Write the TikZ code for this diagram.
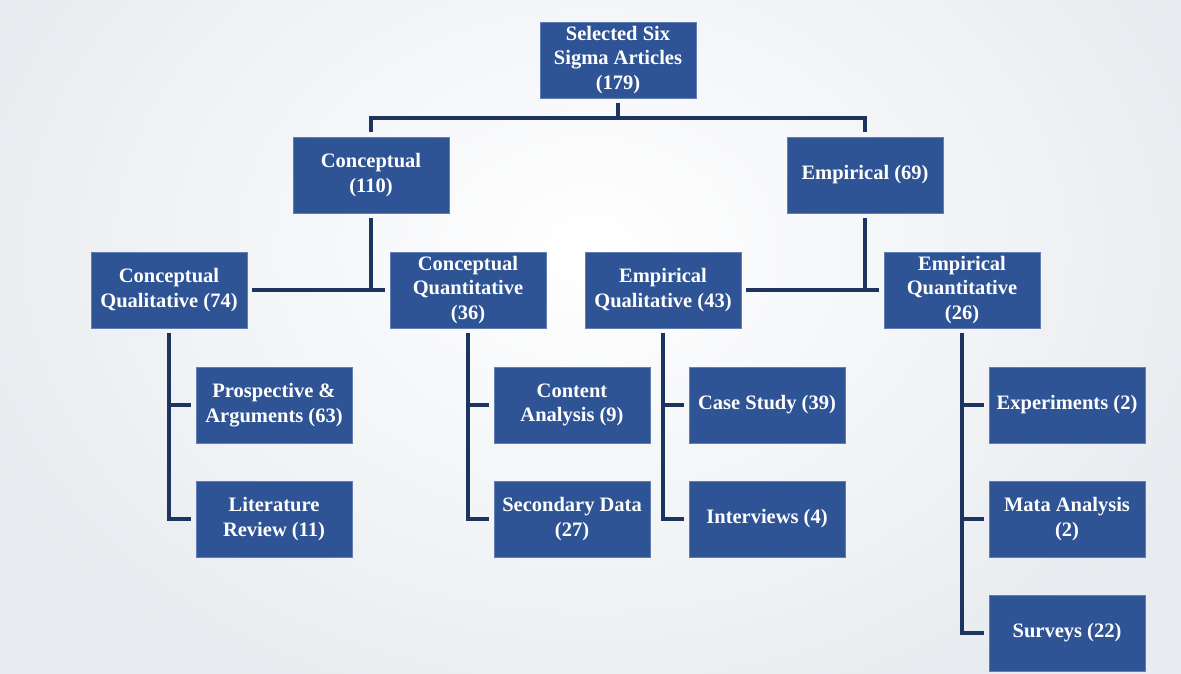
\documentclass[tikz,border=0pt]{standalone}
\usepackage{fontspec}
\setmainfont{Liberation Serif}
\usetikzlibrary{calc}
\definecolor{boxblue}{RGB}{46,84,150}
\definecolor{boxedge}{RGB}{96,126,180}
\definecolor{linkblue}{RGB}{30,52,96}
\definecolor{bgedge}{RGB}{232,235,239}
\begin{document}
\begin{tikzpicture}[x=1pt,y=-1pt,
  box/.style={rectangle, fill=boxblue, draw=boxedge, line width=0.8pt,
    minimum width=156pt, minimum height=76pt, inner sep=0pt, text=white,
    align=center, font=\bfseries\fontsize{20.5}{24.5}\selectfont},
  link/.style={draw=linkblue, line width=4pt}]
  % page and soft background
  \useasboundingbox (0,0) rectangle (1181,674);
  \shade[inner color=white, outer color=bgedge] (-80,-260) rectangle (1261,760);

  % boxes
  \node[box] (root)   at (618,60)   {Selected Six\\Sigma Articles\\(179)};
  \node[box] (con)    at (371,175)  {Conceptual\\(110)};
  \node[box] (emp)    at (865,175)  {Empirical (69)};
  \node[box] (cqual)  at (169,290)  {Conceptual\\Qualitative (74)};
  \node[box] (cquant) at (468,290)  {Conceptual\\Quantitative\\(36)};
  \node[box] (equal)  at (663,290)  {Empirical\\Qualitative (43)};
  \node[box] (equant) at (962,290)  {Empirical\\Quantitative\\(26)};
  \node[box] (pros)   at (274,405)  {Prospective \&\\Arguments (63)};
  \node[box] (lit)    at (274,519)  {Literature\\Review (11)};
  \node[box] (cont)   at (572,405)  {Content\\Analysis (9)};
  \node[box] (sec)    at (572,519)  {Secondary Data\\(27)};
  \node[box] (case)   at (767,405)  {Case Study (39)};
  \node[box] (intv)   at (767,519)  {Interviews (4)};
  \node[box] (expt)   at (1067,405) {Experiments (2)};
  \node[box] (mata)   at (1067,519) {Mata Analysis\\(2)};
  \node[box] (surv)   at (1067,633) {Surveys (22)};

  % top level bus
  \coordinate (bus) at ($(root.south)+(0,20)$);
  \draw[link] ([yshift=-5pt]root.south) -- (bus);
  \draw[link] ([yshift=5pt]con.north) |- (bus) -| ([yshift=5pt]emp.north);

  % second level: vertical from parent meets a bar between its two children
  \draw[link] ([yshift=-5pt]con.south) -- (con.south |- cqual.east);
  \draw[link] ([xshift=5pt]cqual.east) -- ([xshift=-5pt]cquant.west);
  \draw[link] ([yshift=-5pt]emp.south) -- (emp.south |- equal.east);
  \draw[link] ([xshift=5pt]equal.east) -- ([xshift=-5pt]equant.west);

  % third level: spine down from each box, ticks to each child
  \draw[link] ([yshift=-5pt]cqual.south) |- ([xshift=-5pt]lit.west);
  \draw[link] (cqual.south |- pros.west) -- ([xshift=-5pt]pros.west);
  \draw[link] ([yshift=-5pt]cquant.south) |- ([xshift=-5pt]sec.west);
  \draw[link] (cquant.south |- cont.west) -- ([xshift=-5pt]cont.west);
  \draw[link] ([yshift=-5pt]equal.south) |- ([xshift=-5pt]intv.west);
  \draw[link] (equal.south |- case.west) -- ([xshift=-5pt]case.west);
  \draw[link] ([yshift=-5pt]equant.south) |- ([xshift=-5pt]surv.west);
  \draw[link] (equant.south |- expt.west) -- ([xshift=-5pt]expt.west);
  \draw[link] (equant.south |- mata.west) -- ([xshift=-5pt]mata.west);
\end{tikzpicture}
\end{document}
